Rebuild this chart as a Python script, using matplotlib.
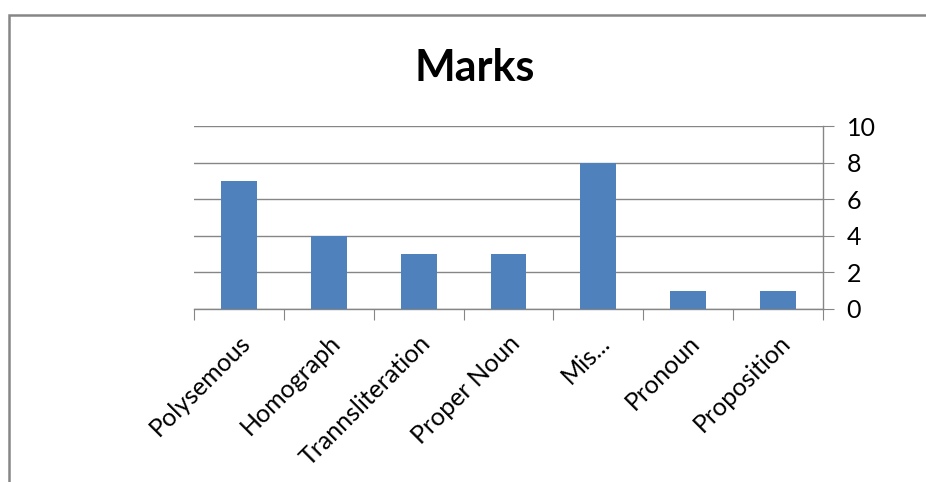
import matplotlib
matplotlib.use("Agg")
from matplotlib import pyplot as plt
from matplotlib.patches import Rectangle

# chart data
categories = ["Polysemous", "Homograph", "Trannsliteration", "Proper Noun", "Mis...", "Pronoun", "Proposition"]
marks = [7, 4, 3, 3, 8, 1, 1]
y_ticks = [0, 2, 4, 6, 8, 10]

plt.rcParams['font.family'] = ['Lato', 'DejaVu Sans']
grey = "#868686"

fig = plt.figure(figsize=(9.26, 4.82), dpi=100)
ax = fig.add_axes([194 / 926, 1 - 309 / 482, 629 / 926, 183 / 482])

x = list(range(len(categories)))
ax.bar(x, marks, width=0.4, color="#4F81BD", zorder=3)

ax.set_xlim(-0.5, len(categories) - 0.5)
ax.set_ylim(0, 10)
ax.set_yticks(y_ticks)
ax.yaxis.tick_right()
ax.tick_params(axis='y', direction='out', length=8, color=grey, labelsize=18, pad=9)
ax.grid(axis='y', color=grey, linewidth=1, zorder=0)

# ticks between categories, labels at centres
ax.set_xticks([i - 0.5 for i in range(len(categories) + 1)])
ax.set_xticklabels([])
ax.set_xticks(x, minor=True)
ax.set_xticklabels(categories, minor=True, rotation=45, ha='right', rotation_mode='anchor', fontsize=18)
ax.tick_params(axis='x', which='major', direction='out', length=8, color=grey)
ax.tick_params(axis='x', which='minor', length=0, pad=16)

for s in ["left", "top"]:
    ax.spines[s].set_visible(False)
for s in ["bottom", "right"]:
    ax.spines[s].set_color(grey)
    ax.spines[s].set_linewidth(1)

fig.text(475 / 926, 1 - 68 / 482, "Marks", ha='center', va='center', fontsize=31, fontweight='bold')

# outer chart border
fig.patches.append(Rectangle((9 / 926, -0.1), 1.2, 1 - 15 / 482 + 0.1, transform=fig.transFigure,
                             fill=False, edgecolor=grey, linewidth=1.8))

fig.savefig("out.png", dpi=100)
